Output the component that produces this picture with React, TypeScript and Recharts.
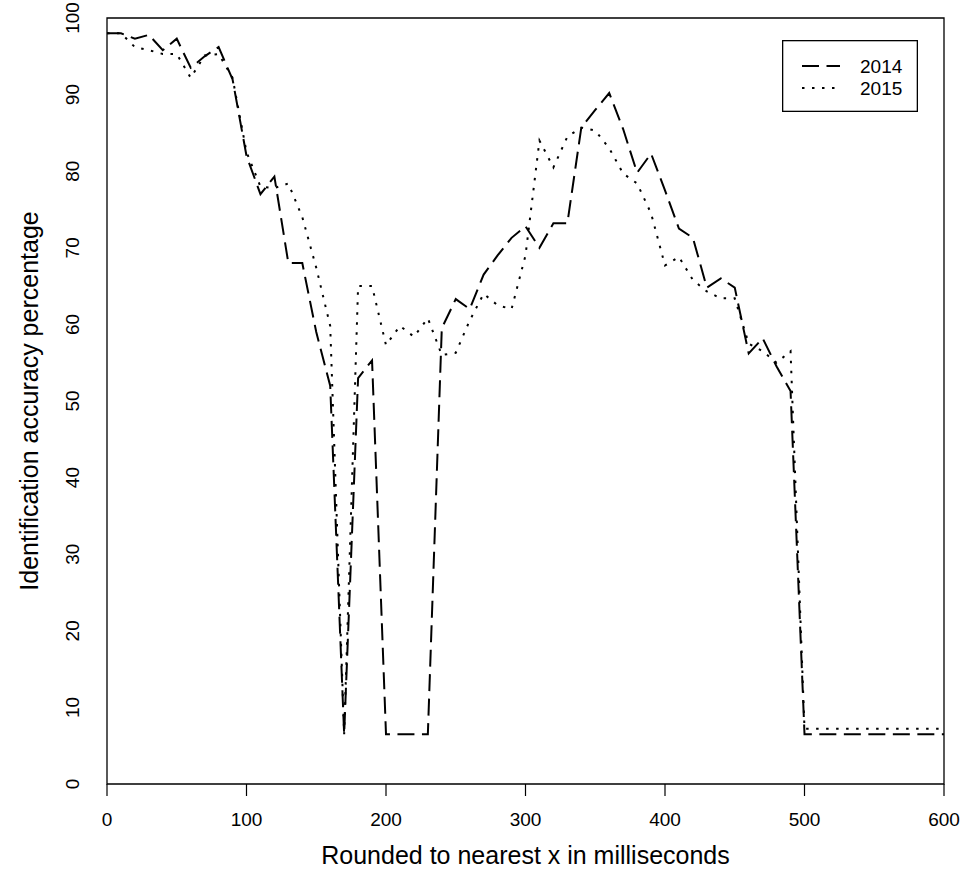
import { Label, Line, LineChart, ReferenceArea, XAxis, YAxis } from 'recharts';

const times = [
  0, 10, 20, 30, 40, 50, 60, 70, 80, 90, 100, 110, 120, 130, 140, 150, 160, 170, 180, 190, 200,
  210, 220, 230, 240, 250, 260, 270, 280, 290, 300, 310, 320, 330, 340, 350, 360, 370, 380, 390,
  400, 410, 420, 430, 440, 450, 460, 470, 480, 490, 500, 510, 520, 530, 540, 550, 560, 570, 580,
  590, 600,
];

const acc2014 = [
  98, 98, 97.3, 97.8, 95.8, 97.3, 93.5, 95, 96.2, 92, 82, 77, 79.3, 68, 68, 59, 52, 6.5, 53, 55.3,
  6.5, 6.5, 6.5, 6.5, 59.5, 63.3, 62, 66.5, 69, 71.3, 72.8, 70, 73.2, 73.2, 85.7, 88, 90.2, 85.5,
  79.8, 82.3, 77.5, 72.5, 71.3, 64.8, 66, 64.8, 56.2, 58.2, 54.5, 51.3, 6.5, 6.5, 6.5, 6.5, 6.5,
  6.5, 6.5, 6.5, 6.5, 6.5, 6.5,
];

const acc2015 = [
  98, 98, 96.2, 95.8, 95.3, 95.3, 92.2, 95.1, 95.3, 92.2, 82.5, 78, 77.8, 78.4, 74, 67.4, 59.8,
  6.5, 65, 65, 57.3, 59.8, 58.4, 60.8, 56, 56.3, 60.5, 64, 62.5, 62, 69, 84, 80.5, 84.5, 85.7,
  85.3, 83, 79.7, 78.4, 74.5, 67.7, 68.8, 65.8, 64.3, 63.4, 63.4, 57.5, 56.5, 55, 56.5, 7.2, 7.2,
  7.2, 7.2, 7.2, 7.2, 7.2, 7.2, 7.2, 7.2, 7.2,
];

const xTicks = [0, 100, 200, 300, 400, 500, 600];
const yTicks = [0, 10, 20, 30, 40, 50, 60, 70, 80, 90, 100];
const Y_MAX = 100;

const FONT = '"Liberation Sans", Arial, Helvetica, sans-serif';
const DASH_2014 = '17 7.5';
const DASH_2015 = '2.5 7.5';
const PLOT_LEFT = 107;

const data = times.map((t, i) => ({ x: t, a: acc2014[i], b: acc2015[i] }));

type Box = { x: number; y: number; width: number; height: number };

// y title plus R-style tick labels, rotated parallel to the axis
function YTitle({ viewBox }: { viewBox?: Box }) {
  if (!viewBox) return null;
  const cx = 38;
  const cy = viewBox.y + viewBox.height / 2;
  const tx = PLOT_LEFT - 28;
  return (
    <g>
      <text
        x={cx}
        y={cy}
        transform={`rotate(-90 ${cx} ${cy})`}
        textAnchor="middle"
        fontSize={25}
        fontFamily={FONT}
        fill="#000"
      >
        Identification accuracy percentage
      </text>
      {yTicks.map((v) => {
        const ty = viewBox.y + viewBox.height * (1 - v / Y_MAX);
        return (
          <text
            key={v}
            x={tx}
            y={ty}
            transform={`rotate(-90 ${tx} ${ty})`}
            textAnchor="middle"
            fontSize={19}
            fontFamily={FONT}
            fill="#000"
          >
            {v}
          </text>
        );
      })}
    </g>
  );
}

function Legend2() {
  return (
    <svg
      width={136}
      height={72}
      style={{ position: 'absolute', left: 782, top: 40 }}
    >
      <rect x={0.65} y={0.65} width={134.7} height={70.7} fill="#fff" stroke="#000" strokeWidth={1.3} />
      <line x1={20} x2={58} y1={26} y2={26} stroke="#000" strokeWidth={2} strokeDasharray={DASH_2014} />
      <line x1={20} x2={58} y1={48} y2={48} stroke="#000" strokeWidth={2} strokeDasharray={DASH_2015} />
      <text x={78} y={26} dominantBaseline="central" fontSize={19} fontFamily={FONT}>
        2014
      </text>
      <text x={78} y={48} dominantBaseline="central" fontSize={19} fontFamily={FONT}>
        2015
      </text>
    </svg>
  );
}

export default function App() {
  return (
    <div style={{ position: 'absolute', left: 0, top: 0, width: 962, height: 881, background: '#fff' }}>
      <LineChart width={962} height={881} data={data} margin={{ top: 18, right: 18, left: 0, bottom: 0 }}>
        <XAxis
          dataKey="x"
          type="number"
          domain={[0, 600]}
          ticks={xTicks}
          allowDataOverflow
          height={97}
          axisLine={false}
          tickLine={{ stroke: '#000', strokeWidth: 1.2 }}
          tickSize={12}
          tickMargin={17}
          tick={{ fontSize: 19, fontFamily: FONT, fill: '#000' }}
        >
          <Label
            value="Rounded to nearest x in milliseconds"
            position="insideBottom"
            offset={17}
            style={{ fontSize: 25, fontFamily: FONT, fill: '#000' }}
          />
        </XAxis>
        <YAxis
          type="number"
          domain={[0, Y_MAX]}
          ticks={yTicks}
          allowDataOverflow
          width={PLOT_LEFT}
          axisLine={false}
          tickLine={{ stroke: '#000', strokeWidth: 1.2 }}
          tickSize={12}
          tick={false}
        >
          <Label content={YTitle} />
        </YAxis>
        <ReferenceArea x1={0} x2={600} y1={0} y2={100} fill="none" stroke="#000" strokeWidth={1.3} />
        <Line
          dataKey="a"
          type="linear"
          stroke="#000"
          strokeWidth={2}
          strokeDasharray={DASH_2014}
          dot={false}
          activeDot={false}
          isAnimationActive={false}
        />
        <Line
          dataKey="b"
          type="linear"
          stroke="#000"
          strokeWidth={2}
          strokeDasharray={DASH_2015}
          dot={false}
          activeDot={false}
          isAnimationActive={false}
        />
      </LineChart>
      <Legend2 />
    </div>
  );
}
